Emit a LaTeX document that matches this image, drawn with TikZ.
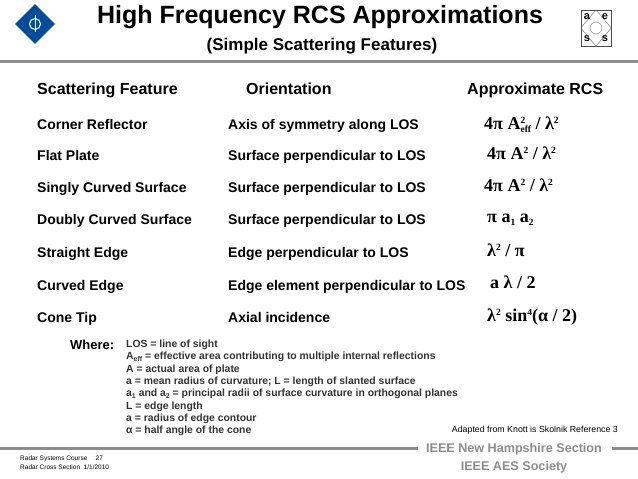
\documentclass[tikz,border=0pt]{standalone}
\usepackage{fontspec}
\setmainfont{Liberation Sans}
\newfontfamily\fserif{Liberation Serif}
\tikzset{x=1pt,y=-1pt,
 hd/.style={font=\fontsize{16}{18}\selectfont\bfseries,anchor=mid west,inner sep=0},
 rw/.style={font=\fontsize{14}{16}\selectfont\bfseries,anchor=mid west,inner sep=0},
 fm/.style={font=\fontsize{18}{20}\fserif\bfseries,anchor=mid west,inner sep=0},
 df/.style={font=\fontsize{10.4}{12}\selectfont\bfseries,anchor=mid west,inner sep=0,text=black!80},
 gl/.style={line width=3pt,draw=black!45}}
\newcommand{\up}[1]{\raisebox{0.75ex}{\fontsize{9.5}{10}\selectfont #1}}
\newcommand{\dn}[1]{\raisebox{-0.35ex}{\fontsize{9.5}{10}\selectfont #1}}
\begin{document}
\begin{tikzpicture}
\useasboundingbox (0,0) rectangle (638,479);
\fill[white] (0,0) rectangle (638,479);
% logos
\node[draw=white,line width=1.5pt,fill=blue!50!cyan!60!black,shape=rectangle,rotate=45,minimum width=30,minimum height=30] (ieee) at (35,24) {};
\node[draw=white,line width=1pt,circle,minimum size=11,inner sep=0] (ieeec) at (35,24) {};
\draw[white,line width=1pt] (ieeec.north) ++(0,-3) -- ++(0,17);
\node[draw=black!70,minimum width=30,minimum height=36,inner sep=0] (aes) at (596,28) {};
\draw[black!60] (aes.north) -- (aes.east) -- (aes.south) -- (aes.west) -- cycle;
\draw[black!50] (aes.center) circle (6);
\node[font=\fontsize{11}{11}\selectfont\bfseries,inner sep=0] (la) at (587,17) {a};
\node[font=\fontsize{11}{11}\selectfont\bfseries,inner sep=0] (le) at (605,17) {e};
\node[font=\fontsize{11}{11}\selectfont\bfseries,inner sep=0] (ls) at (587,39) {s};
\node[font=\fontsize{11}{11}\selectfont\bfseries,inner sep=0] (ls2) at (605,39) {s};
% title
\node[font=\fontsize{25}{27}\selectfont\bfseries,inner sep=0] (title) at (320,17) {High Frequency RCS Approximations};
\node[font=\fontsize{17}{19}\selectfont\bfseries,inner sep=0] (sub) at (322,46) {(Simple Scattering Features)};
\draw[gl] (0,61) -- (638,61);
% headers
\node[hd] (h1) at (37,92) {Scattering Feature};
\node[hd] (h2) at (246,92) {Orientation};
\node[hd] (h3) at (467,92) {Approximate RCS};
% rows
\node[rw] (r1) at (37,127) {Corner Reflector};
\node[rw] (r2) at (37,158) {Flat Plate};
\node[rw] (r3) at (37,190) {Singly Curved Surface};
\node[rw] (r4) at (37,222) {Doubly Curved Surface};
\node[rw] (r5) at (37,255) {Straight Edge};
\node[rw] (r6) at (37,288) {Curved Edge};
\node[rw] (r7) at (37,320) {Cone Tip};
\node[rw] (o1) at (228,127) {Axis of symmetry along LOS};
\node[rw] (o2) at (228,158) {Surface perpendicular to LOS};
\node[rw] (o3) at (228,190) {Surface perpendicular to LOS};
\node[rw] (o4) at (228,222) {Surface perpendicular to LOS};
\node[rw] (o5) at (228,255) {Edge perpendicular to LOS};
\node[rw] (o6) at (228,288) {Edge element perpendicular to LOS};
\node[rw] (o7) at (228,320) {Axial incidence};
\node[fm] (f1) at (484,127) {4π A\rlap{\up{2}}\dn{eff} / λ\up{2}};
\node[fm] (f2) at (487,157) {4π A\up{2} / λ\up{2}};
\node[fm] (f3) at (484,189) {4π A\up{2} / λ\up{2}};
\node[fm] (f4) at (487,220) {π a\dn{1} a\dn{2}};
\node[fm] (f5) at (487,254) {λ\up{2} / π};
\node[fm] (f6) at (490,286) {a λ / 2};
\node[fm] (f7) at (487,319) {λ\up{2} sin\up{4}(α / 2)};
% where
\node[font=\fontsize{13}{15}\selectfont\bfseries,anchor=mid west,inner sep=0] (wh) at (70,347) {Where:};
\node[df] (d1) at (126,345) {LOS = line of sight};
\node[df] (d2) at (126,357) {A\raisebox{-0.3ex}{\fontsize{7}{7}\selectfont eff} = effective area contributing to multiple internal reflections};
\node[df] (d3) at (126,370) {A = actual area of plate};
\node[df] (d4) at (126,382) {a = mean radius of curvature; L = length of slanted surface};
\node[df] (d5) at (126,394) {a\raisebox{-0.3ex}{\fontsize{7}{7}\selectfont 1} and a\raisebox{-0.3ex}{\fontsize{7}{7}\selectfont 2} = principal radii of surface curvature in orthogonal planes};
\node[df] (d6) at (126,407) {L = edge length};
\node[df] (d7) at (126,419) {a = radius of edge contour};
\node[df] (d8) at (126,431) {α = half angle of the cone};
\node[font=\fontsize{8.8}{10}\selectfont,anchor=mid east,inner sep=0] (ad) at (618,430) {Adapted from Knott is Skolnik Reference 3};
% footer
\draw[gl] (0,448) -- (418,448);
\draw[gl] (612,448) -- (638,448);
\node[font=\fontsize{12.6}{14}\selectfont\bfseries,text=black!45,inner sep=0] (n1) at (514,449) {IEEE New Hampshire Section};
\node[font=\fontsize{12.6}{14}\selectfont\bfseries,text=black!45,inner sep=0] (n2) at (514,467) {IEEE AES Society};
\node[font=\fontsize{6.5}{7}\selectfont,anchor=mid west,inner sep=0] (c1) at (20,458) {Radar Systems Course \quad 27};
\node[font=\fontsize{6.5}{7}\selectfont,anchor=mid west,inner sep=0] (c2) at (20,467) {Radar Cross Section \ 1/1/2010};
\end{tikzpicture}
\end{document}
